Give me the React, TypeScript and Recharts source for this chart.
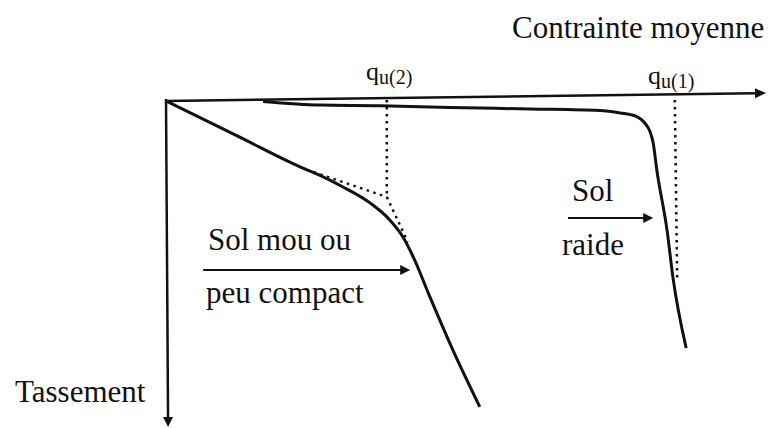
import React from 'react';
import { LineChart, Line, XAxis, YAxis, ReferenceLine } from 'recharts';

// Contrainte moyenne (x) / tassement (y, compté vers le bas), unités arbitraires
const solMouX = [0, 11.7, 23.5, 25.2, 29.5, 34, 37.3, 39.5, 41.2, 44, 47.8, 52.3];
const solMouY = [0.3, 11.8, 23.3, 24.7, 29, 34.3, 40, 45.7, 52.3, 65.7, 83.3, 102.3];

const solRaideX = [16.2, 25.7, 35.7, 47.3, 60.7, 72.3, 75.7, 78.2, 79.8, 80.7, 81.2, 81.8, 83.5, 84.5, 86.7];
const solRaideY = [0.5, 1.7, 1.9, 2.5, 3, 3.5, 4.3, 5.3, 7.7, 10.7, 14.3, 23.3, 43.3, 59.3, 82.7];

// constructions en pointillés
const qu2X = [36.8, 36.8];
const qu2Y = [0, 32.3];
const tangente1X = [23.5, 36.8];
const tangente1Y = [23.3, 32.3];
const tangente2X = [36.8, 40.3];
const tangente2Y = [32.3, 47.3];
const qu1X = [84.8, 85.2];
const qu1Y = [0, 60];

const toPoints = (xs: number[], ys: number[]) => xs.map((x, i) => ({ x, y: ys[i] }));

const solMou = toPoints(solMouX, solMouY);
const solRaide = toPoints(solRaideX, solRaideY);
const qu2 = toPoints(qu2X, qu2Y);
const tangente1 = toPoints(tangente1X, tangente1Y);
const tangente2 = toPoints(tangente2X, tangente2Y);
const qu1 = toPoints(qu1X, qu1Y);

const INK = '#111';
const FONT = '"Liberation Serif", "DejaVu Serif", serif';

// trait terminé par une flèche pleine
const arrow = (head: number, half: number, width: number) => (p: any) => {
  const { x1, y1, x2, y2 } = p;
  const a = Math.atan2(y2 - y1, x2 - x1);
  const c = Math.cos(a);
  const s = Math.sin(a);
  const bx = x2 - head * c;
  const by = y2 - head * s;
  return (
    <g>
      <line x1={x1} y1={y1} x2={bx + c} y2={by + s} stroke={INK} strokeWidth={width} />
      <polygon
        points={`${x2},${y2} ${bx - s * half},${by + c * half} ${bx + s * half},${by - c * half}`}
        fill={INK}
      />
    </g>
  );
};

const dotted = { stroke: INK, strokeWidth: 2.5, strokeDasharray: '2.5 4.5', dot: false, isAnimationActive: false } as const;

const txt = (size: number) => ({ fontFamily: FONT, fontSize: size, fill: INK });

export default function App() {
  return (
    <div style={{ position: 'relative', width: 776, height: 428, background: '#fff', fontFamily: FONT }}>
      <style>{'body{margin:0}'}</style>
      <LineChart width={776} height={428} margin={{ top: 100, right: 10, bottom: 4, left: 166 }}>
        <XAxis type="number" dataKey="x" domain={[0, 100]} allowDataOverflow hide />
        <YAxis type="number" dataKey="y" domain={[0, 108]} reversed allowDataOverflow hide />

        <ReferenceLine segment={[{ x: 0, y: 0.3 }, { x: 100, y: -2.3 }]} ifOverflow="visible" shape={arrow(11, 5, 2.5)} />
        <ReferenceLine segment={[{ x: 0, y: -0.3 }, { x: 0.35, y: 109 }]} ifOverflow="visible" shape={arrow(10, 5, 2.5)} />

        <Line data={qu2} dataKey="y" type="linear" {...dotted} />
        <Line data={tangente1} dataKey="y" type="linear" {...dotted} />
        <Line data={tangente2} dataKey="y" type="linear" {...dotted} />
        <Line data={qu1} dataKey="y" type="linear" {...dotted} />

        <Line data={solMou} dataKey="y" type="monotone" stroke={INK} strokeWidth={3} dot={false} isAnimationActive={false} />
        <Line data={solRaide} dataKey="y" type="monotone" stroke={INK} strokeWidth={3} dot={false} isAnimationActive={false} />

        <ReferenceLine segment={[{ x: 6.2, y: 56.7 }, { x: 40.7, y: 56.7 }]} ifOverflow="visible" shape={arrow(10, 5, 2)} />
        <ReferenceLine segment={[{ x: 67, y: 39.3 }, { x: 81.2, y: 39.3 }]} ifOverflow="visible" shape={arrow(10, 5, 2)} />
      </LineChart>

      <svg
        width={776}
        height={428}
        style={{ position: 'absolute', left: 0, top: 0, pointerEvents: 'none', fontFamily: FONT }}
      >
        <text x={512} y={38} style={txt(31)}>Contrainte moyenne</text>
        <text x={366} y={80} style={txt(26)}>
          q<tspan dy={4} style={txt(20)}>u(2)</tspan>
        </text>
        <text x={648} y={84} style={txt(26)}>
          q<tspan dy={4} style={txt(20)}>u(1)</tspan>
        </text>
        <text x={208} y={250} style={txt(31)}>Sol mou ou</text>
        <text x={206} y={303} style={txt(31)}>peu compact</text>
        <text x={572} y={201} style={txt(31)}>Sol</text>
        <text x={562} y={255} style={txt(31)}>raide</text>
        <text x={15} y={402} style={txt(31)}>Tassement</text>
      </svg>
    </div>
  );
}
